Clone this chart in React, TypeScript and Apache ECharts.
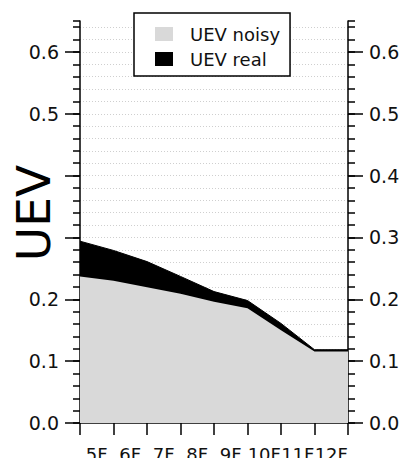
import React, { useEffect, useRef } from "react";
import * as echarts from "echarts";

// Floor labels shown under the plot
const floors = ["5F", "6F", "7F", "8F", "9F", "10F", "11F", "12F"];
// Sample positions (floor boundaries) along the x axis
const samplePositions = [0, 1, 2, 3, 4, 5, 6, 7, 8];
// UEV values at each sample position
const uevReal = [0.294, 0.279, 0.261, 0.237, 0.2125, 0.198, 0.161, 0.1185, 0.1185];
const uevNoisy = [0.237, 0.23, 0.2195, 0.209, 0.196, 0.1855, 0.15, 0.1155, 0.1155];
// Major y ticks, and the ones labelled on each side (the left title hides 0.3 and 0.4)
const majorTicks = [0, 0.1, 0.2, 0.3, 0.4, 0.5, 0.6];
const leftLabels = [0, 0.1, 0.2, 0.5, 0.6];
const rightLabels = [0, 0.1, 0.2, 0.3, 0.4, 0.5, 0.6];

const FONT = "DejaVu Sans";

export default function App() {
  const ref = useRef<HTMLDivElement>(null);

  useEffect(() => {
    if (!ref.current) return;
    const chart = echarts.init(ref.current, undefined, { renderer: "svg" });

    const minorAxis = (position: "left" | "right", withGrid: boolean) => ({
      type: "value",
      position,
      min: 0,
      max: 0.65,
      interval: 0.02,
      axisLine: { show: true, lineStyle: { color: "#000", width: 1.5 } },
      axisTick: { show: true, length: 7, lineStyle: { color: "#000", width: 1.5 } },
      axisLabel: { show: false },
      splitLine: {
        show: withGrid,
        showMinLine: false,
        showMaxLine: false,
        lineStyle: { color: "#cfcfcf", width: 1, type: [1, 2] },
      },
    });

    const majorAxis = (position: "left" | "right", labels: number[]) => ({
      type: "value",
      position,
      min: 0,
      max: 0.65,
      interval: 0.1,
      axisLine: { show: false },
      axisTick: {
        show: true,
        length: 15,
        customValues: majorTicks,
        lineStyle: { color: "#000", width: 1.5 },
      },
      axisLabel: {
        show: true,
        margin: 21,
        customValues: labels,
        formatter: (v: number) => v.toFixed(1),
        fontFamily: FONT,
        fontSize: 19,
        color: "#111",
      },
      splitLine: { show: false },
    });

    chart.setOption({
      animation: false,
      backgroundColor: "#fff",
      grid: {
        left: 80,
        right: 55,
        top: 21,
        bottom: 35,
        containLabel: false,
        outerBoundsMode: "none",
      },
      legend: {
        orient: "vertical",
        left: 134,
        top: 13,
        data: ["UEV noisy", "UEV real"],
        icon: "rect",
        itemWidth: 18,
        itemHeight: 14,
        itemGap: 7,
        padding: [12, 10, 8, 21],
        backgroundColor: "#fff",
        borderColor: "#000",
        borderWidth: 1.5,
        textStyle: {
          fontFamily: FONT,
          fontSize: 18,
          lineHeight: 18,
          color: "#111",
          padding: [0, 0, 0, 12],
        },
      },
      xAxis: [
        {
          type: "value",
          min: samplePositions[0],
          max: samplePositions[samplePositions.length - 1],
          show: false,
          splitLine: { show: false },
        },
        {
          type: "category",
          data: floors,
          position: "bottom",
          offset: 12,
          boundaryGap: true,
          axisLine: { show: true, lineStyle: { color: "#000", width: 1.5 } },
          axisTick: { show: true, length: 12, lineStyle: { color: "#000", width: 1.5 } },
          axisLabel: {
            interval: 0,
            margin: 10,
            fontFamily: FONT,
            fontSize: 18,
            color: "#111",
          },
        },
      ],
      yAxis: [
        minorAxis("left", true),
        majorAxis("left", leftLabels),
        minorAxis("right", false),
        majorAxis("right", rightLabels),
      ],
      graphic: [
        {
          type: "text",
          x: 33,
          y: 213,
          rotation: Math.PI / 2,
          style: {
            text: "UEV",
            fontFamily: FONT,
            fontSize: 47,
            fill: "#000",
            align: "center",
            verticalAlign: "middle",
          },
        },
      ],
      series: [
        {
          name: "UEV real",
          type: "line",
          xAxisIndex: 0,
          yAxisIndex: 0,
          symbol: "none",
          data: samplePositions.map((x, i) => [x, uevReal[i]]),
          itemStyle: { color: "#000" },
          lineStyle: { color: "#000", width: 1 },
          areaStyle: { color: "#000", opacity: 1 },
          z: 2,
        },
        {
          name: "UEV noisy",
          type: "line",
          xAxisIndex: 0,
          yAxisIndex: 0,
          symbol: "none",
          data: samplePositions.map((x, i) => [x, uevNoisy[i]]),
          itemStyle: { color: "#d9d9d9" },
          lineStyle: { width: 0 },
          areaStyle: { color: "#d9d9d9", opacity: 1 },
          z: 3,
        },
      ],
    });

    return () => chart.dispose();
  }, []);

  return (
    <div
      ref={ref}
      style={{ position: "absolute", left: 0, top: 0, width: 403, height: 458 }}
    />
  );
}
